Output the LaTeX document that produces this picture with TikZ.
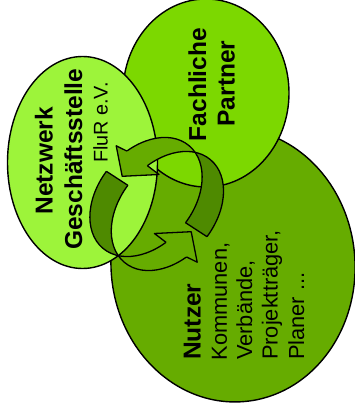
\documentclass[tikz,border=0pt]{standalone}
\usepackage{fontspec}
\setmainfont{Liberation Sans}
\definecolor{cNetz}{RGB}{157,244,58}
\definecolor{cFach}{RGB}{124,216,0}
\definecolor{cNutz}{RGB}{102,172,0}
\definecolor{cArrL}{RGB}{102,172,0}
\definecolor{cArrD}{RGB}{78,138,0}
\newcommand\EllA{{[rotate around={50:(-10.7,-7)}] (-10.7,-7) ellipse[x radius=67pt,y radius=47pt]}}
\newcommand\EllB{{[rotate around={50:(10.7,7)}] (10.7,7) ellipse[x radius=67pt,y radius=47pt]}}
\newcommand\OneArrow{%
  \begin{scope}
    \clip (0,0) -- (-53.4:130) -- (-10:130) -- (33:130) -- cycle;
    \fill[cArrD,even odd rule] \EllA \EllB;
    \draw[ringline] \EllA;
    \draw[ringline] \EllB;
  \end{scope}
  \draw[ringline] (28.84,18.73) -- (50.30,32.66);
  \begin{scope}
    \clip (0,0) -- (-53.4:130) -- (-90:130) -- (-55.28,-69.28) -- (-1.98,-31.21) -- cycle;
    \fill[cArrL,even odd rule] \EllA \EllB;
    \draw[ringline] \EllA;
    \draw[ringline] \EllB;
  \end{scope}
  \fill[cArrL] (-29.81,-52.93) -- (-40.5,-58.2) -- (-34.5,-27.7) -- (2.3,-29.5) -- (-9.31,-38.29) -- cycle;
  \draw[ringline] (-29.81,-52.93) -- (-40.5,-58.2) -- (-34.5,-27.7) -- (2.3,-29.5) -- (-9.31,-38.29);
}
\begin{document}
\begin{tikzpicture}[x=1pt,y=-1pt,
  blob/.style={draw=black,line width=1.4pt},
  ringline/.style={draw=black,line width=1.3pt,line join=round},
  bigbold/.style={font=\fontsize{24.5}{29}\selectfont\bfseries, rotate=90, inner sep=0pt},
  plain/.style={font=\fontsize{21.8}{26}\selectfont, rotate=90, inner sep=0pt},
  small/.style={font=\fontsize{19.8}{24}\selectfont, rotate=90, inner sep=0pt}]
\useasboundingbox (0,0) rectangle (355,414);
% the three circles of actors
\path[blob,fill=cNutz,rotate around={4:(233,265)}] (233,265) ellipse[x radius=122pt,y radius=137pt];
\path[blob,fill=cFach] (206,93) ellipse[x radius=83pt,y radius=94pt];
\path[blob,fill=cNetz] (82.5,162.5) ellipse[x radius=75pt,y radius=106pt];
% cycle arrows
\begin{scope}[shift={(156.7,204)}]
  \OneArrow
\end{scope}
\begin{scope}[shift={(156.7,204)},rotate=180]
  \OneArrow
\end{scope}
% texts
\node[bigbold,anchor=base] (netz) at (52.7,160.8) {Netzwerk};
\node[bigbold,anchor=base] (gesch) at (82,159.2) {Geschäftsstelle};
\node[small,anchor=base west] (flur) at (107.6,163) {FluR e.V.};
\node[bigbold,anchor=base] (fach) at (206,84.5) {Fachliche};
\node[bigbold,anchor=base] (part) at (234.5,83.5) {Partner};
\node[bigbold,anchor=base west] (nutz) at (200.5,360) {Nutzer};
\node[plain,anchor=base west] (komm) at (226.8,360.5) {Kommunen,};
\node[plain,anchor=base west] (verb) at (252,360) {Verbände,};
\node[plain,anchor=base west] (proj) at (277.7,360) {Projektträger,};
\node[plain,anchor=base west] (plan) at (304,360) {Planer ...};
\end{tikzpicture}
\end{document}
